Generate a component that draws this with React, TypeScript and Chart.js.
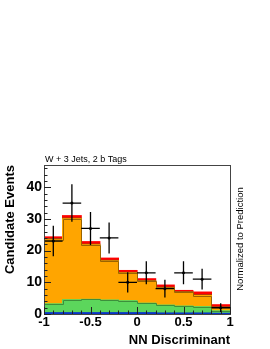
import React, { useEffect, useRef } from "react";
import { Chart, registerables } from "chart.js";

Chart.register(...registerables);

const binCenters = [-0.9, -0.7, -0.5, -0.3, -0.1, 0.1, 0.3, 0.5, 0.7, 0.9];
const blueVals = [0.4, 0.4, 0.4, 0.4, 0.4, 0.4, 0.3, 0.3, 0.3, 0.2];
const greenVals = [2.8, 4.1, 4.2, 4.0, 3.8, 3.0, 2.5, 2.2, 2.0, 0.8];
const orangeVals = [20.2, 25.5, 17.2, 12.3, 8.7, 6.9, 5.3, 4.3, 3.5, 0.9];
const brownVals = [0.3, 0.2, 0.2, 0.2, 0.2, 0.2, 0.3, 0.2, 0.2, 0.3];
const redVals = [0.6, 0.8, 0.8, 0.7, 0.6, 0.6, 0.7, 0.4, 0.9, 0.7];
const dataVals = [23, 35, 27, 24, 10, 13, 8, 13, 11, 2];
const dataErr = [4.8, 5.9, 5.2, 4.9, 3.2, 3.6, 2.8, 3.6, 3.3, 1.4];
const binHalfWidth = 0.1;
const yTicksMajor = [0, 10, 20, 30, 40];
const xTicksMajor = [-1, -0.5, 0, 0.5, 1];

const titleText = "W + 3 Jets, 2 b Tags";
const yTitle = "Candidate Events";
const xTitle = "NN Discriminant";
const rightText = "Normalized to Prediction";

const FONT = "'Liberation Sans', Arial, Helvetica, sans-serif";

const toXY = (vals: number[]) => vals.map((v, i) => ({ x: binCenters[i], y: v }));

function drawStep(chart: any, tops: number[], color: string) {
  const ctx = chart.ctx;
  const xs = chart.scales.x;
  const ys = chart.scales.y;
  ctx.save();
  ctx.strokeStyle = color;
  ctx.lineWidth = 1;
  ctx.beginPath();
  for (let i = 0; i < tops.length; i++) {
    const x0 = xs.getPixelForValue(binCenters[i] - binHalfWidth);
    const x1 = xs.getPixelForValue(binCenters[i] + binHalfWidth);
    const y = Math.round(ys.getPixelForValue(tops[i])) + 0.5;
    if (i === 0) ctx.moveTo(x0, y);
    else ctx.lineTo(Math.round(x0) + 0.5, y);
    ctx.lineTo(i === tops.length - 1 ? x1 : Math.round(x1) + 0.5, y);
  }
  ctx.stroke();
  ctx.restore();
}

const overlay = {
  id: "overlay",
  afterDatasetsDraw(chart: any) {
    const ctx = chart.ctx;
    const xs = chart.scales.x;
    const ys = chart.scales.y;
    const greenTop = greenVals.map((v, i) => v + blueVals[i]);
    const orangeTop = orangeVals.map((v, i) => v + greenTop[i]);
    drawStep(chart, greenTop, "#3c8f3c");
    drawStep(chart, orangeTop, "#9a6400");
    ctx.save();
    ctx.strokeStyle = "#000";
    ctx.lineWidth = 1.3;
    for (let i = 0; i < dataVals.length; i++) {
      const cx = xs.getPixelForValue(binCenters[i]);
      const x0 = xs.getPixelForValue(binCenters[i] - binHalfWidth);
      const x1 = xs.getPixelForValue(binCenters[i] + binHalfWidth);
      const cy = ys.getPixelForValue(dataVals[i]);
      const yt = ys.getPixelForValue(dataVals[i] + dataErr[i]);
      const yb = ys.getPixelForValue(Math.max(0, dataVals[i] - dataErr[i]));
      ctx.beginPath();
      ctx.moveTo(x0, cy);
      ctx.lineTo(x1, cy);
      ctx.moveTo(cx, yt);
      ctx.lineTo(cx, yb);
      ctx.stroke();
      ctx.fillStyle = "#000";
      ctx.beginPath();
      ctx.arc(cx, cy, 1.5, 0, Math.PI * 2);
      ctx.fill();
    }
    ctx.restore();
  },
  afterDraw(chart: any) {
    const ctx = chart.ctx;
    const a = chart.chartArea;
    const xs = chart.scales.x;
    const ys = chart.scales.y;
    ctx.save();
    // frame
    ctx.strokeStyle = "#444";
    ctx.lineWidth = 1;
    ctx.strokeRect(Math.round(a.left) + 0.5, Math.round(a.top) + 0.5, Math.round(a.right - a.left), Math.round(a.bottom - a.top));
    // y ticks
    ctx.strokeStyle = "#222";
    ctx.beginPath();
    for (let v = 0; v <= ys.max; v += 2) {
      const y = Math.round(ys.getPixelForValue(v)) + 0.5;
      const len = yTicksMajor.includes(v) ? 7 : 3.5;
      ctx.moveTo(a.left, y);
      ctx.lineTo(a.left + len, y);
    }
    // x ticks
    for (let k = -10; k <= 10; k++) {
      const v = k / 10;
      const x = Math.round(xs.getPixelForValue(v)) + 0.5;
      const len = k % 5 === 0 ? 7 : 3.5;
      ctx.moveTo(x, a.bottom);
      ctx.lineTo(x, a.bottom - len);
    }
    ctx.stroke();
    // texts
    ctx.fillStyle = "#000";
    ctx.font = `9px ${FONT}`;
    ctx.textAlign = "left";
    ctx.textBaseline = "alphabetic";
    ctx.fillText(titleText, a.left + 1, a.top - 3);

    ctx.font = `bold 13px ${FONT}`;
    ctx.textAlign = "right";
    ctx.fillText(xTitle, a.right, 344);

    ctx.save();
    ctx.translate(14, a.top);
    ctx.rotate(-Math.PI / 2);
    ctx.textAlign = "right";
    ctx.fillText(yTitle, 0, 0);
    ctx.restore();

    ctx.save();
    ctx.font = `9.5px ${FONT}`;
    ctx.translate(243, 239);
    ctx.rotate(-Math.PI / 2);
    ctx.textAlign = "center";
    ctx.fillText(rightText, 0, 0);
    ctx.restore();

    ctx.restore();
  },
};

export default function App() {
  const ref = useRef<HTMLCanvasElement | null>(null);
  useEffect(() => {
    if (!ref.current) return;
    const fill = { borderWidth: 0, inflateAmount: 0.6 };
    const chart = new Chart(ref.current, {
      type: "bar",
      data: {
        datasets: [
          { label: "blue", data: toXY(blueVals), backgroundColor: "#0a35c8", ...fill },
          { label: "green", data: toXY(greenVals), backgroundColor: "#5cd65c", ...fill },
          { label: "orange", data: toXY(orangeVals), backgroundColor: "#ffa500", ...fill },
          { label: "brown", data: toXY(brownVals), backgroundColor: "#8a5a10", ...fill },
          { label: "red", data: toXY(redVals), backgroundColor: "#ff0000", ...fill },
        ] as any,
      },
      options: {
        animation: false,
        responsive: false,
        maintainAspectRatio: false,
        layout: { padding: { top: 165, right: 40, left: 0, bottom: 0 } },
        datasets: { bar: { barPercentage: 1, categoryPercentage: 1 } },
        plugins: { legend: { display: false }, tooltip: { enabled: false }, title: { display: false } },
        scales: {
          x: {
            type: "linear",
            min: -1,
            max: 1,
            offset: false,
            stacked: true,
            grid: { display: false, drawTicks: false },
            border: { display: false },
            ticks: {
              stepSize: 0.5,
              color: "#000",
              font: { family: FONT, size: 13, weight: "bold" },
              padding: 1,
              maxRotation: 0,
              callback: (v: any) => String(Number(v)),
            },
            afterBuildTicks: (s: any) => { s.ticks = xTicksMajor.map((v) => ({ value: v })); },
            afterFit: (s: any) => { s.height = 35; },
          },
          y: {
            min: 0,
            max: 47,
            stacked: true,
            grid: { display: false, drawTicks: false },
            border: { display: false },
            ticks: {
              color: "#000",
              font: { family: FONT, size: 14, weight: "bold" },
              padding: 2,
              callback: (v: any) => String(v),
            },
            afterBuildTicks: (s: any) => { s.ticks = yTicksMajor.map((v) => ({ value: v })); },
            afterFit: (s: any) => { s.width = 44; },
          },
        },
      } as any,
      plugins: [overlay],
    });
    return () => chart.destroy();
  }, []);
  return (
    <div style={{ position: "fixed", left: 0, top: 0, width: 270, height: 349, background: "#fff" }}>
      <canvas ref={ref} width={270} height={349} style={{ width: 270, height: 349, display: "block" }} />
    </div>
  );
}
